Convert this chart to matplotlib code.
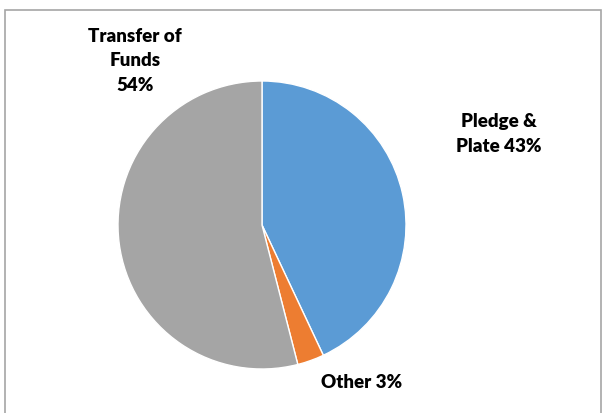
import matplotlib
matplotlib.use("Agg")
import matplotlib.pyplot as plt
from matplotlib.patches import Rectangle

# ── Data ──────────────────────────────────────────────────────────────────────
categories = ["Pledge & Plate", "Other", "Transfer of Funds"]
shares = [43, 3, 54]
colors = ["#5B9BD5", "#ED7D31", "#A5A5A5"]
label_texts = ["Pledge &\nPlate 43%", "Other 3%", "Transfer of\nFunds\n54%"]

W, H = 606, 413

fig = plt.figure(figsize=(W / 100, H / 100), dpi=100)
ax = fig.add_axes([0, 0, 1, 1])

# cornice esterna grigia
ax.add_patch(Rectangle((5, -5), W - 10, H - 10 + 5, fill=False,
                       edgecolor="#A6A6A6", lw=1.2))

ax.pie(shares, colors=colors, startangle=90, counterclock=False,
       center=(262, H - 225), radius=144, frame=True,
       wedgeprops=dict(edgecolor="white", linewidth=1))
ax.set_xlim(0, W)
ax.set_ylim(0, H)
ax.set_axis_off()

label_pos = [(499, H - 134), (362, H - 383), (135, H - 61)]
for txt, (x, y) in zip(label_texts, label_pos):
    ax.text(x, y, txt, ha="center", va="center", fontsize=13.5,
            fontweight="heavy", family="Lato", color="black", linespacing=1.55)

fig.savefig("out.png", dpi=100)
plt.close(fig)
